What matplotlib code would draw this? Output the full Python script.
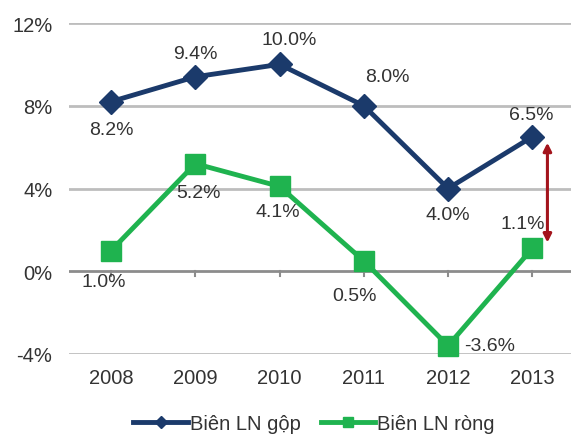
import matplotlib
matplotlib.use('Agg')
import matplotlib.pyplot as plt

# Data
years = ['2008', '2009', '2010', '2011', '2012', '2013']
gross_margin = [8.2, 9.4, 10.0, 8.0, 4.0, 6.5]
net_margin = [1.0, 5.2, 4.1, 0.5, -3.6, 1.1]
gross_name = 'Biên LN gộp'
net_name = 'Biên LN ròng'

navy = '#1b3a6b'
green = '#1fb34f'
text_col = '#333333'

plt.rcParams['font.family'] = ['Liberation Sans', 'DejaVu Sans']

fig = plt.figure(figsize=(5.71, 4.39), dpi=100)
ax = fig.add_axes([69/571, 84/439, 1 - 69/571, (415 - 84)/439])

x = list(range(len(years)))

# gridlines
for v in [12, 8, 4, -4]:
    ax.axhline(v, color='#bdbdbd', lw=2, zorder=0)
ax.axhline(0, color='#8c8c8c', lw=2, zorder=1)
for xi in x:
    ax.plot([xi, xi], [0, -0.25], color='#8c8c8c', lw=1.5, zorder=1)

ax.plot(x, gross_margin, color=navy, lw=3.5, marker='D', markersize=12.5,
        label=gross_name, zorder=3, clip_on=False)
ax.plot(x, net_margin, color=green, lw=3.5, marker='s', markersize=15,
        label=net_name, zorder=3, clip_on=False)

# value labels (offsets in points)
gross_off = [(0, -20), (0, 17), (7, 18), (17, 21), (0, -19), (-1, 16)]
net_off = [(-5, -22), (2, -21), (-1, -18), (-7, -25), (30, 0), (-7, 18)]
for i, v in enumerate(gross_margin):
    ax.annotate('%.1f%%' % v, (x[i], v), xytext=gross_off[i], textcoords='offset points',
                ha='center', va='center', fontsize=14, color=text_col)
for i, v in enumerate(net_margin):
    ax.annotate('%.1f%%' % v, (x[i], v), xytext=net_off[i], textcoords='offset points',
                ha='center', va='center', fontsize=14, color=text_col)

# gap arrow between the two margins in the last year
ax.annotate('', xy=(x[-1] + 0.18, net_margin[-1] + 0.15), xytext=(x[-1] + 0.18, gross_margin[-1] - 0.15),
            arrowprops=dict(arrowstyle='<|-|>', color='#a3141c', lw=2.2, mutation_scale=12),
            zorder=4)

ax.set_xlim(-0.5, 5.46)
ax.set_ylim(-4, 12)
ax.set_yticks([-4, 0, 4, 8, 12])
ax.set_yticklabels(['-4%', '0%', '4%', '8%', '12%'])
ax.set_xticks(x)
ax.set_xticklabels(years)
ax.tick_params(axis='both', length=0, labelsize=14.5, colors=text_col)
ax.tick_params(axis='y', pad=12)
ax.tick_params(axis='x', pad=10)
for s in ax.spines.values():
    s.set_visible(False)

leg = fig.legend(loc='center', bbox_to_anchor=(0.55, 0.032), ncol=2, frameon=False,
                 fontsize=14.5, markerscale=0.45, handlelength=2.7, handletextpad=0.1,
                 columnspacing=1.0)
for t in leg.get_texts():
    t.set_color(text_col)

fig.savefig('out.png', dpi=100, facecolor='white')
